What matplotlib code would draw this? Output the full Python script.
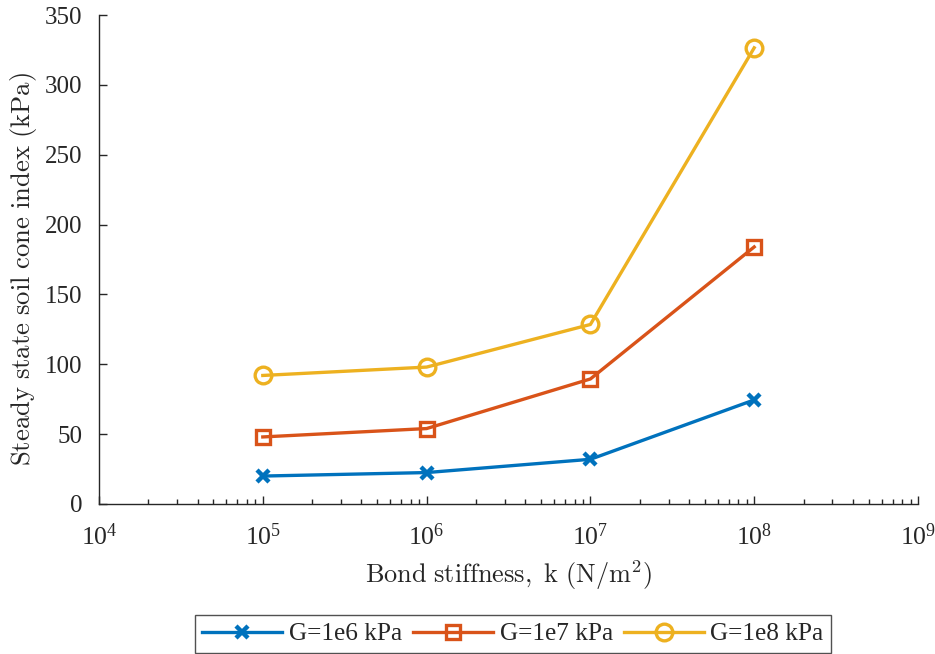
import matplotlib
matplotlib.use("Agg")
import matplotlib.pyplot as plt
from matplotlib.ticker import LogLocator, NullFormatter

k = [1e5, 1e6, 1e7, 1e8]
g1e6 = [20, 22.5, 32, 74.5]
g1e7 = [48, 54, 89.5, 184]
g1e8 = [92, 98, 128.5, 326.5]
labels = ["G=1e6 kPa", "G=1e7 kPa", "G=1e8 kPa"]
yticks = [0, 50, 100, 150, 200, 250, 300, 350]

plt.rcParams['font.family'] = ['Liberation Serif', 'DejaVu Serif']
plt.rcParams['mathtext.fontset'] = 'stix'

W, H = 935, 654
PX = 100 / 72.0
fig = plt.figure(figsize=(W/100, H/100), dpi=100)
ax = fig.add_axes([99/W, 1 - 504/H, (918-99)/W, (504-15)/H])

c = ['#0072BD', '#D95319', '#EDB120']
ax.plot(k, g1e6, color=c[0], lw=2.4, marker='x', ms=9, mew=3.2, label=labels[0])
ax.plot(k, g1e7, color=c[1], lw=2.4, marker='s', ms=9.5, mew=2.4, mfc='none', label=labels[1])
ax.plot(k, g1e8, color=c[2], lw=2.4, marker='o', ms=12, mew=2.4, mfc='none', label=labels[2])

ax.set_xscale('log')
ax.set_xlim(1e4, 1e9)
ax.set_ylim(0, 350)
ax.set_yticks(yticks)
ax.xaxis.set_major_locator(LogLocator(base=10, numticks=10))
ax.xaxis.set_minor_locator(LogLocator(base=10, subs=range(2, 10), numticks=20))
ax.xaxis.set_minor_formatter(NullFormatter())

for s in ['top', 'right']:
    ax.spines[s].set_visible(False)
for s in ['left', 'bottom']:
    ax.spines[s].set_color('#262626')
    ax.spines[s].set_linewidth(1.0)
ax.tick_params(direction='in', which='major', length=6, width=1, colors='#262626')
ax.tick_params(direction='in', which='minor', length=3.5, width=1, colors='#262626')
ax.tick_params(axis='y', labelsize=18, pad=12)
ax.tick_params(axis='x', labelsize=18.5, pad=9)
for t in ax.get_xticklabels() + ax.get_yticklabels():
    t.set_color('#262626')

xl = ax.set_xlabel(r'$\mathrm{Bond\ stiffness,\ k\ (N/m^2)}$', fontsize=19, color='#262626')
yl = ax.set_ylabel(r'$\mathrm{Steady\ state\ soil\ cone\ index\ (kPa)}$', fontsize=19, color='#262626')
xl.set_math_fontfamily('cm')
yl.set_math_fontfamily('cm')

leg_fs = 17
leg = fig.legend(loc='center', bbox_to_anchor=(513/W, 1 - 634/H), ncol=3,
                 fontsize=leg_fs, frameon=True, fancybox=False, edgecolor='#262626',
                 handlelength=3.4, columnspacing=0.5, handletextpad=0.3, borderpad=0.35)

# match text extents to the reference
fig.canvas.draw()
r = fig.canvas.get_renderer()
wx = xl.get_window_extent(r).width
hy = yl.get_window_extent(r).height
xl.set_fontsize(19 * 287 / wx)
yl.set_fontsize(19 * 394 / hy)

# x tick labels: superscript top near y=523 px from top
tl = [t for t in ax.get_xticklabels() if t.get_visible() and t.get_text()]
top = max(t.get_window_extent(r).y1 for t in tl)
shift = top - (H - 523)
ax.tick_params(axis='x', pad=9 + shift / PX)

# legend font: text width ~113 px
tw = leg.get_texts()[0].get_window_extent(r).width
leg_fs = leg_fs * 113 / tw
leg.remove()
leg = fig.legend(loc='center', bbox_to_anchor=(513/W, 1 - 634/H), ncol=3,
                 fontsize=leg_fs, frameon=True, fancybox=False, edgecolor='#262626',
                 handlelength=80 / (leg_fs * PX), columnspacing=0.45, handletextpad=0.25,
                 borderpad=0.3)
leg.get_frame().set_linewidth(1.0)
for t in leg.get_texts():
    t.set_color('#262626')

# place axis labels
ax.xaxis.set_label_coords((508.5 - 99) / 819, (504 - 558) / 489)
ax.yaxis.set_label_coords((39 - 99) / 819, (504 - 269) / 489)

fig.savefig('out.png', dpi=100)
